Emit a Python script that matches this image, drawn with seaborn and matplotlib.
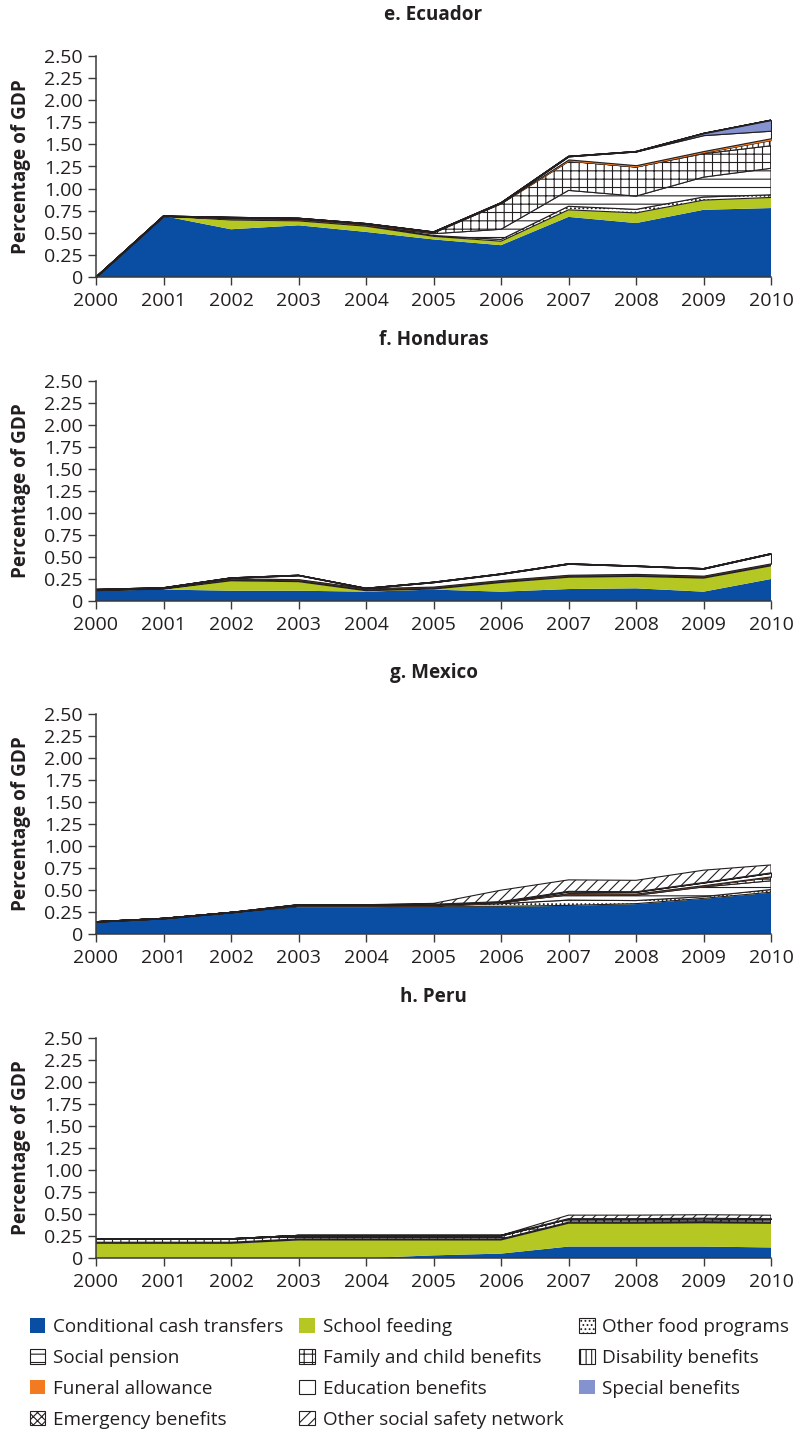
import numpy as np
import pandas as pd
import matplotlib
matplotlib.use("Agg")
import matplotlib.pyplot as plt
from matplotlib.patches import Patch
from matplotlib.ticker import FuncFormatter, MultipleLocator
import seaborn as sns

# ---------------------------------------------------------------- data
YEARS = [2000, 2001, 2002, 2003, 2004, 2005, 2006, 2007, 2008, 2009, 2010]

PROGRAMS = [
    "Conditional cash transfers", "School feeding", "Other food programs",
    "Social pension", "Family and child benefits", "Disability benefits",
    "Funeral allowance", "Education benefits", "Special benefits",
    "Emergency benefits", "Other social safety network",
]

# e. Ecuador (percentage of GDP)
ecu_cct = [0.0, 0.69, 0.54, 0.585, 0.51, 0.425, 0.36, 0.68, 0.61, 0.76, 0.78]
ecu_school = [0.0, 0.0, 0.105, 0.05, 0.065, 0.035, 0.045, 0.08, 0.115, 0.11, 0.12]
ecu_food = [0.0, 0.0, 0.01, 0.01, 0.01, 0.01, 0.02, 0.04, 0.04, 0.035, 0.03]
ecu_pension = [0.0, 0.0, 0.0, 0.0, 0.0, 0.02, 0.115, 0.18, 0.15, 0.225, 0.30]
ecu_family = [0.0, 0.0, 0.0, 0.0, 0.0, 0.01, 0.29, 0.33, 0.33, 0.265, 0.255]
ecu_disability = [0.0, 0.0, 0.0, 0.0, 0.0, 0.0, 0.0, 0.0, 0.0, 0.01, 0.06]
ecu_funeral = [0.0, 0.0, 0.01, 0.01, 0.01, 0.01, 0.01, 0.02, 0.02, 0.02, 0.025]
ecu_education = [0.0, 0.0, 0.01, 0.01, 0.01, 0.0, 0.0, 0.035, 0.155, 0.18, 0.085]
ecu_special = [0.0, 0.0, 0.0, 0.0, 0.0, 0.0, 0.0, 0.0, 0.0, 0.02, 0.12]

# f. Honduras
hnd_cct = [0.117, 0.13, 0.117, 0.117, 0.106, 0.13, 0.106, 0.136, 0.144, 0.106, 0.25]
hnd_school = [0.0, 0.006, 0.113, 0.103, 0.011, 0.006, 0.104, 0.134, 0.136, 0.154, 0.15]
hnd_food = [0.005, 0.005, 0.01, 0.01, 0.01, 0.01, 0.01, 0.01, 0.01, 0.01, 0.01]
hnd_family = [0.005, 0.005, 0.01, 0.01, 0.01, 0.01, 0.01, 0.01, 0.01, 0.01, 0.01]
hnd_funeral = [0.005, 0.005, 0.008, 0.008, 0.008, 0.008, 0.008, 0.008, 0.008, 0.008, 0.008]
hnd_education = [0.0, 0.0, 0.005, 0.045, 0.0, 0.05, 0.07, 0.125, 0.09, 0.08, 0.11]

# g. Mexico
mex_cct = [0.14, 0.178, 0.246, 0.305, 0.305, 0.31, 0.31, 0.32, 0.34, 0.40, 0.47]
mex_school = [0.0, 0.0, 0.0, 0.005, 0.005, 0.005, 0.005, 0.005, 0.005, 0.005, 0.005]
mex_food = [0.0, 0.0, 0.0, 0.005, 0.005, 0.005, 0.03, 0.06, 0.035, 0.02, 0.03]
mex_pension = [0.0, 0.0, 0.0, 0.0, 0.0, 0.0, 0.01, 0.06, 0.06, 0.11, 0.10]
mex_family = [0.0, 0.0, 0.0, 0.0, 0.0, 0.0, 0.0, 0.01, 0.01, 0.01, 0.04]
mex_funeral = [0.0, 0.0, 0.0, 0.008, 0.008, 0.008, 0.008, 0.01, 0.01, 0.01, 0.01]
mex_education = [0.0, 0.0, 0.0, 0.01, 0.01, 0.01, 0.005, 0.02, 0.02, 0.03, 0.04]
mex_other_net = [0.0, 0.0, 0.0, 0.0, 0.0, 0.01, 0.13, 0.13, 0.13, 0.14, 0.09]

# h. Peru
per_cct = [0.0, 0.0, 0.0, 0.0, 0.0, 0.03, 0.05, 0.13, 0.13, 0.13, 0.12]
per_school = [0.167, 0.167, 0.167, 0.205, 0.205, 0.175, 0.155, 0.265, 0.265, 0.27, 0.274]
per_food = [0.012, 0.012, 0.012, 0.012, 0.012, 0.012, 0.012, 0.012, 0.012, 0.012, 0.012]
per_family = [0.04, 0.04, 0.04, 0.04, 0.04, 0.04, 0.04, 0.04, 0.04, 0.04, 0.04]
per_other_net = [0.0, 0.0, 0.0, 0.0, 0.0, 0.0, 0.0, 0.04, 0.04, 0.04, 0.04]

PANELS = [
    ("e. Ecuador", {
        "Conditional cash transfers": ecu_cct, "School feeding": ecu_school,
        "Other food programs": ecu_food, "Social pension": ecu_pension,
        "Family and child benefits": ecu_family, "Disability benefits": ecu_disability,
        "Funeral allowance": ecu_funeral, "Education benefits": ecu_education,
        "Special benefits": ecu_special}),
    ("f. Honduras", {
        "Conditional cash transfers": hnd_cct, "School feeding": hnd_school,
        "Other food programs": hnd_food, "Family and child benefits": hnd_family,
        "Funeral allowance": hnd_funeral, "Education benefits": hnd_education}),
    ("g. Mexico", {
        "Conditional cash transfers": mex_cct, "School feeding": mex_school,
        "Other food programs": mex_food, "Social pension": mex_pension,
        "Family and child benefits": mex_family, "Funeral allowance": mex_funeral,
        "Education benefits": mex_education, "Other social safety network": mex_other_net}),
    ("h. Peru", {
        "Conditional cash transfers": per_cct, "School feeding": per_school,
        "Other food programs": per_food, "Family and child benefits": per_family,
        "Other social safety network": per_other_net}),
]

# ---------------------------------------------------------------- styles
INK = "#231f20"
EDGE = "#231f20"
STYLE = {
    "Conditional cash transfers": dict(fc="#0a4ea3", hatch=None, lw=0.0),
    "School feeding": dict(fc="#b5c723", hatch=None, lw=0.0),
    "Other food programs": dict(fc="white", hatch="....", lw=0.8),
    "Social pension": dict(fc="white", hatch="--", lw=0.8),
    "Family and child benefits": dict(fc="white", hatch="++", lw=0.8),
    "Disability benefits": dict(fc="white", hatch="|||", lw=0.8),
    "Funeral allowance": dict(fc="#f27a21", hatch=None, lw=0.3),
    "Education benefits": dict(fc="white", hatch=None, lw=0.8),
    "Special benefits": dict(fc="#8592d0", hatch=None, lw=0.8),
    "Emergency benefits": dict(fc="white", hatch="xxxx", lw=0.8),
    "Other social safety network": dict(fc="white", hatch="///", lw=0.8),
}

sns.set_theme(style="ticks")
plt.rcParams["font.family"] = ["Open Sans", "DejaVu Sans"]
plt.rcParams["hatch.linewidth"] = 0.8
plt.rcParams["text.color"] = INK
plt.rcParams["axes.labelcolor"] = INK
plt.rcParams["xtick.color"] = "#3a3a3a"
plt.rcParams["ytick.color"] = "#3a3a3a"
plt.rcParams["xtick.labelcolor"] = INK
plt.rcParams["ytick.labelcolor"] = INK

W, H = 800, 1432
fig = plt.figure(figsize=(W / 100, H / 100), dpi=100)

# pixel extents of each panel: (top of 2.50, zero line)
PANEL_PX = [(56, 277), (381, 601), (714, 934), (1038, 1258)]
X0, X1 = 96, 771


def fmt_y(v, _):
    return "0" if abs(v) < 1e-9 else f"{v:.2f}"


for (title, series), (ytop, ybot) in zip(PANELS, PANEL_PX):
    ax = fig.add_axes([X0 / W, 1 - ybot / H, (X1 - X0) / W, (ybot - ytop) / H])
    df = pd.DataFrame(
        {p: series.get(p, [0.0] * len(YEARS)) for p in PROGRAMS}, index=YEARS
    )
    base = np.zeros(len(YEARS))
    for p in PROGRAMS:
        top = base + df[p].to_numpy()
        st = STYLE[p]
        ax.fill_between(
            df.index, base, top,
            facecolor=st["fc"], hatch=st["hatch"],
            edgecolor=EDGE if st["lw"] > 0 or st["hatch"] else "none",
            linewidth=st["lw"], zorder=2,
        )
        base = top

    ax.set_xlim(2000, 2010)
    ax.set_ylim(0, 2.5)
    ax.xaxis.set_major_locator(MultipleLocator(1))
    ax.yaxis.set_major_locator(MultipleLocator(0.25))
    ax.yaxis.set_major_formatter(FuncFormatter(fmt_y))
    ax.tick_params(axis="both", which="major", length=5.5, width=1.0,
                   labelsize=14, direction="out")
    ax.tick_params(axis="x", pad=5)
    ax.tick_params(axis="y", pad=4)
    sns.despine(ax=ax)
    for side in ("left", "bottom"):
        ax.spines[side].set_color("#3a3a3a")
        ax.spines[side].set_linewidth(1.1)
    ax.set_ylabel("Percentage of GDP", fontsize=13.6, fontweight="bold")
    ax.yaxis.set_label_coords(-0.097, 0.5)
    # title baseline sits about 36 px above the top of the plotting area
    ax.text(0.5, 1 + 36 / (ybot - ytop), title, transform=ax.transAxes,
            ha="center", va="baseline", fontsize=13.6, fontweight="bold")
    ax.set_facecolor("white")

# legend: laid out column by column, three columns
ORDER = [
    "Conditional cash transfers", "Social pension", "Funeral allowance", "Emergency benefits",
    "School feeding", "Family and child benefits", "Education benefits", "Other social safety network",
    "Other food programs", "Disability benefits", "Special benefits",
]
handles = []
for p in ORDER:
    st = STYLE[p]
    solid = st["hatch"] is None and st["fc"] != "white"
    handles.append(Patch(facecolor=st["fc"], hatch=st["hatch"],
                         edgecolor="none" if solid else EDGE,
                         linewidth=0 if solid else 0.8, label=p))
fig.legend(handles=handles, loc="upper left", ncol=3,
           bbox_to_anchor=(30 / W, 1 - 1318 / H), frameon=False,
           fontsize=13.6, handlelength=0.82, handleheight=0.82,
           handletextpad=0.4, columnspacing=0.85, labelspacing=0.68,
           borderpad=0, borderaxespad=0)

fig.savefig("out.png", dpi=100, facecolor="white")
